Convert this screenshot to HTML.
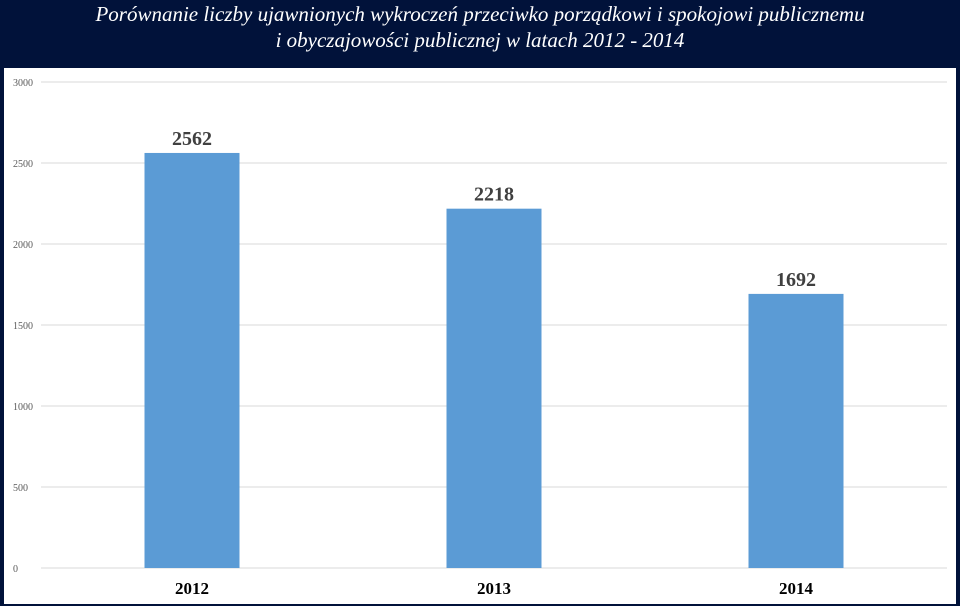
<!DOCTYPE html>
<html><head><meta charset="utf-8"><style>
html,body{margin:0;padding:0;background:#01123a;}
#wrap{position:relative;width:960px;height:606px;background:#01123a;overflow:hidden;font-family:"Liberation Serif",serif;}
#title{position:absolute;left:0;top:0;width:960px;text-align:center;color:#fff;font-style:italic;font-size:21px;line-height:26px;padding-top:1px;}
#panel{position:absolute;left:4px;top:68px;width:952px;height:536px;background:#fff;}
svg{position:absolute;left:0;top:0;}
</style></head><body>
<div id="wrap">
<div id="title">Porównanie liczby ujawnionych wykroczeń przeciwko porządkowi i spokojowi publicznemu<br>i obyczajowości publicznej w latach 2012 - 2014</div>
<div id="panel"></div>
<svg id="chart" width="960" height="606"></svg>
</div>
<script>
const categories=["2012","2013","2014"];
const values=[2562,2218,1692];
const ticks=[0,500,1000,1500,2000,2500,3000];
const NS="http://www.w3.org/2000/svg";
const svg=document.getElementById('chart');
const x0=41,x1=947,y0=568,y1=82,maxV=3000;
const yS=v=>y0-(v/maxV)*(y0-y1);
const band=(x1-x0)/categories.length;
const xC=i=>x0+band*(i+0.5);
const barW=95;
function mk(t,a){const e=document.createElementNS(NS,t);for(const k in a)e.setAttribute(k,a[k]);svg.appendChild(e);return e;}
ticks.forEach(t=>{
  const l=mk('line',{x1:x0,x2:x1,y1:yS(t),y2:yS(t),stroke:'#d9d9d9','stroke-width':1});
  
  
  const tx=mk('text',{x:13,y:yS(t)+4,'font-size':10,fill:'#595959','font-family':'Liberation Serif, serif'});
  tx.textContent=t;
  
  
});
categories.forEach((c,i)=>{
  const r=mk('rect',{x:xC(i)-barW/2,y:yS(values[i]),width:barW,height:y0-yS(values[i]),fill:'#5b9bd5'});
  
  
  const v=mk('text',{x:xC(i),y:yS(values[i])-8,'text-anchor':'middle','font-size':20,'font-weight':'bold',fill:'#404040','font-family':'Liberation Serif, serif'});
  v.textContent=values[i];
  
  
  const cl=mk('text',{x:xC(i),y:594,'text-anchor':'middle','font-size':17,'font-weight':'bold',fill:'#000','font-family':'Liberation Serif, serif'});
  cl.textContent=c;
  
  
});
</script>
</body></html>
